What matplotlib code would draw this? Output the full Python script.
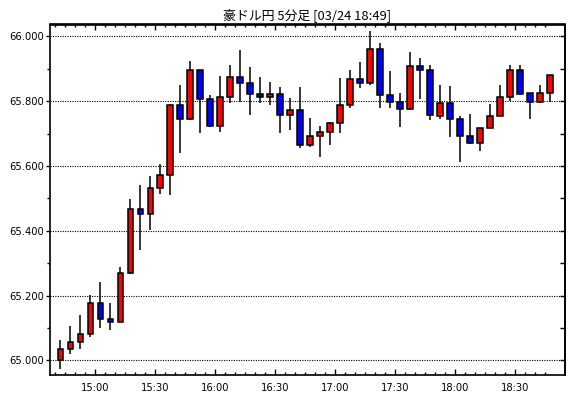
import matplotlib
matplotlib.use("Agg")
import matplotlib.pyplot as plt
from matplotlib import font_manager
from matplotlib.ticker import FixedLocator, FuncFormatter
import numpy as np

# ---- data ----
title = "豪ドル円 5分足 [03/24 18:49]"
start_time = "14:40"
interval_min = 5
opens = [65.002, 65.034, 65.058, 65.083, 65.178, 65.128, 65.119, 65.271, 65.468, 65.452,
         65.532, 65.572, 65.787, 65.745, 65.895, 65.808, 65.725, 65.814, 65.876, 65.857,
         65.821, 65.814, 65.821, 65.759, 65.774, 65.666, 65.694, 65.706, 65.734, 65.790,
         65.870, 65.855, 65.960, 65.818, 65.799, 65.777, 65.910, 65.895, 65.756, 65.796,
         65.745, 65.694, 65.672, 65.719, 65.753, 65.814, 65.898, 65.827, 65.799, 65.824]
highs = [65.063, 65.107, 65.139, 65.201, 65.241, 65.176, 65.287, 65.498, 65.543, 65.570,
         65.606, 65.792, 65.849, 65.924, 65.895, 65.819, 65.877, 65.913, 65.958, 65.907,
         65.874, 65.858, 65.843, 65.809, 65.843, 65.747, 65.723, 65.737, 65.871, 65.896,
         65.921, 66.016, 65.981, 65.892, 65.824, 65.951, 65.933, 65.913, 65.849, 65.847,
         65.756, 65.762, 65.719, 65.791, 65.849, 65.913, 65.913, 65.827, 65.849, 65.882]
lows = [64.974, 65.021, 65.036, 65.071, 65.101, 65.094, 65.119, 65.267, 65.341, 65.404,
        65.514, 65.510, 65.640, 65.742, 65.702, 65.721, 65.705, 65.795, 65.799, 65.758,
        65.795, 65.789, 65.702, 65.711, 65.656, 65.659, 65.628, 65.665, 65.702, 65.780,
        65.842, 65.851, 65.780, 65.780, 65.722, 65.774, 65.807, 65.742, 65.745, 65.690,
        65.612, 65.669, 65.646, 65.719, 65.753, 65.800, 65.820, 65.745, 65.796, 65.799]
closes = [65.034, 65.058, 65.083, 65.178, 65.128, 65.119, 65.271, 65.468, 65.452, 65.532,
          65.572, 65.790, 65.745, 65.895, 65.808, 65.725, 65.814, 65.876, 65.857, 65.821,
          65.814, 65.821, 65.759, 65.774, 65.666, 65.694, 65.706, 65.734, 65.790, 65.870,
          65.855, 65.960, 65.818, 65.799, 65.777, 65.910, 65.895, 65.759, 65.796, 65.745,
          65.694, 65.672, 65.719, 65.753, 65.814, 65.898, 65.823, 65.799, 65.827, 65.882]
x_tick_labels = ["15:00", "15:30", "16:00", "16:30", "17:00", "17:30", "18:00", "18:30"]
y_tick_values = [65.0, 65.2, 65.4, 65.6, 65.8, 66.0]

# ---- fonts ----
names = {f.name for f in font_manager.fontManager.ttflist}
condensed = [f for f in font_manager.fontManager.ttflist
             if f.name == "DejaVu Sans" and str(f.stretch) in ("condensed", "semi-condensed")]
if "Liberation Sans Narrow" in names:
    tick_fp = font_manager.FontProperties(family="Liberation Sans Narrow", size=8.5)
elif condensed:
    tick_fp = font_manager.FontProperties(family="DejaVu Sans", stretch="condensed", size=8)
else:
    tick_fp = font_manager.FontProperties(family="Liberation Sans", size=8.3)
plt.rcParams['font.family'] = ['Noto Sans CJK JP', 'DejaVu Sans']

def to_min(s):
    hh, mm = s.split(":")
    return int(hh) * 60 + int(mm)

t0 = to_min(start_time)
n = len(opens)
o = np.array(opens); h = np.array(highs); l = np.array(lows); c = np.array(closes)
x = np.arange(n) * interval_min + interval_min / 2.0  # minutes since start, bar centres

fig = plt.figure(figsize=(5.70, 3.98), dpi=100)
ax = fig.add_axes([49.5 / 570, 1 - 375 / 398, (565 - 49.5) / 570, (375 - 24.5) / 398])

up = c >= o
colors = np.where(up, "#ff0000", "#0000ff")
ax.vlines(x, l, h, color="black", linewidth=1.1, zorder=2)
ax.bar(x, np.abs(c - o), bottom=np.minimum(o, c), width=2.9, color=colors,
       edgecolor="black", linewidth=1.1, zorder=3)

ax.set_xlim(-3, 255)
ax.set_ylim(64.955, 66.037)

# gridlines
for yv in y_tick_values:
    ax.axhline(yv, color="black", linestyle=(0, (1, 1.2)), linewidth=0.8, zorder=1)

# y ticks (left, outward)
ax.yaxis.set_major_locator(FixedLocator(y_tick_values))
ax.yaxis.set_minor_locator(FixedLocator([v + 0.1 for v in y_tick_values[:-1]]))
ax.yaxis.set_major_formatter(FuncFormatter(lambda v, p: f"{v:.3f}"))
ax.tick_params(axis='y', which='major', direction='out', length=3, width=1, pad=1,
               colors='black')
ax.tick_params(axis='y', which='minor', direction='out', length=2.5, width=1)

# x ticks (bottom, inward)
major_x = [to_min(s) - t0 for s in x_tick_labels]
ax.xaxis.set_major_locator(FixedLocator(major_x))
ax.xaxis.set_minor_locator(FixedLocator(list(range(0, 250, interval_min))))
ax.set_xticklabels(x_tick_labels)
ax.tick_params(axis='x', which='major', direction='in', length=4, width=1, pad=6)
ax.tick_params(axis='x', which='minor', direction='in', length=2.2, width=1)
for lab in ax.get_xticklabels() + ax.get_yticklabels():
    lab.set_fontproperties(tick_fp)

# top / right ticks inward
sx = ax.secondary_xaxis('top')
sx.xaxis.set_major_locator(FixedLocator(major_x))
sx.xaxis.set_minor_locator(FixedLocator(list(range(0, 250, interval_min))))
sx.tick_params(axis='x', which='major', direction='in', length=4, width=1, labeltop=False)
sx.tick_params(axis='x', which='minor', direction='in', length=2.2, width=1)
sx.spines['top'].set_linewidth(1.2)

sy = ax.secondary_yaxis('right')
sy.yaxis.set_major_locator(FixedLocator(y_tick_values))
sy.yaxis.set_minor_locator(FixedLocator([v + 0.1 for v in y_tick_values[:-1]]))
sy.tick_params(axis='y', which='both', direction='in', length=3.5, width=1, labelright=False)
sy.spines['right'].set_linewidth(1.2)

for s in ax.spines.values():
    s.set_linewidth(1.2)

ax.set_title(title, fontsize=9.3, pad=4, family=['Noto Sans CJK JP', 'DejaVu Sans'])

fig.savefig("out.png", dpi=100)
